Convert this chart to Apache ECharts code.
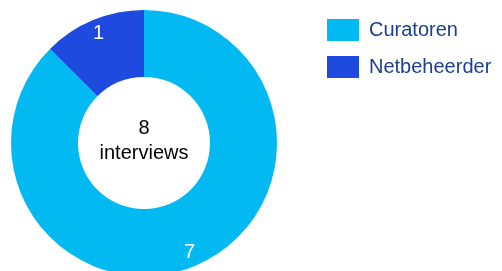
<!DOCTYPE html>
<html>
<head>
<meta charset="utf-8">
<script src="https://cdn.jsdelivr.net/npm/echarts@6/dist/echarts.min.js"></script>
<style>
	html, body { margin: 0; padding: 0; background: #fff; }
	#chart { width: 502px; height: 271px; }
</style>
</head>
<body>
<div id="chart"></div>
<script>
// groepen en aantallen interviews
let categories = ['Curatoren', 'Netbeheerder'];
let values = [7, 1];
let colors = ['#02b9f2', '#1f4ae0'];
let centerLabel = 'interviews';

(function() {
	let myChart = echarts.init(document.getElementById('chart'));

	let total = values.reduce(function(a, b) { return a + b; }, 0);
	let pieData = categories.map(function(name, i) {
		return { name: name, value: values[i] };
	});

	let option = {
		animation: false,
		color: colors,
		title: {
			text: total + '\n' + centerLabel,
			left: 144,
			top: 116,
			padding: 0,
			textAlign: 'center',
			textStyle: {
				fontFamily: 'Liberation Sans',
				fontSize: 20,
				fontWeight: 'normal',
				color: '#000',
				lineHeight: 25
			}
		},
		legend: {
			orient: 'vertical',
			left: 322,
			top: 14,
			icon: 'rect',
			itemWidth: 32,
			itemHeight: 22,
			itemGap: 15,
			data: categories,
			textStyle: {
				fontFamily: 'Liberation Sans',
				fontSize: 20,
				color: '#1b3f8c',
				padding: [0, 0, 0, 5]
			}
		},
		series: [
			{
				type: 'pie',
				center: [144, 143],
				radius: [66, 133],
				startAngle: 90,
				clockwise: true,
				label: { show: false },
				labelLine: { show: false },
				emphasis: { disabled: true },
				data: pieData
			},
			{
				// alleen de getallen, dicht bij de buitenrand
				type: 'pie',
				center: [144, 143],
				radius: [100, 132],
				startAngle: 90,
				silent: true,
				itemStyle: { color: 'transparent' },
				label: {
					show: true,
					position: 'inside',
					formatter: '{c}',
					color: '#fff',
					fontFamily: 'Liberation Sans',
					fontSize: 20
				},
				labelLine: { show: false },
				data: pieData
			}
		]
	};

	myChart.setOption(option);
})();
</script>
</body>
</html>
